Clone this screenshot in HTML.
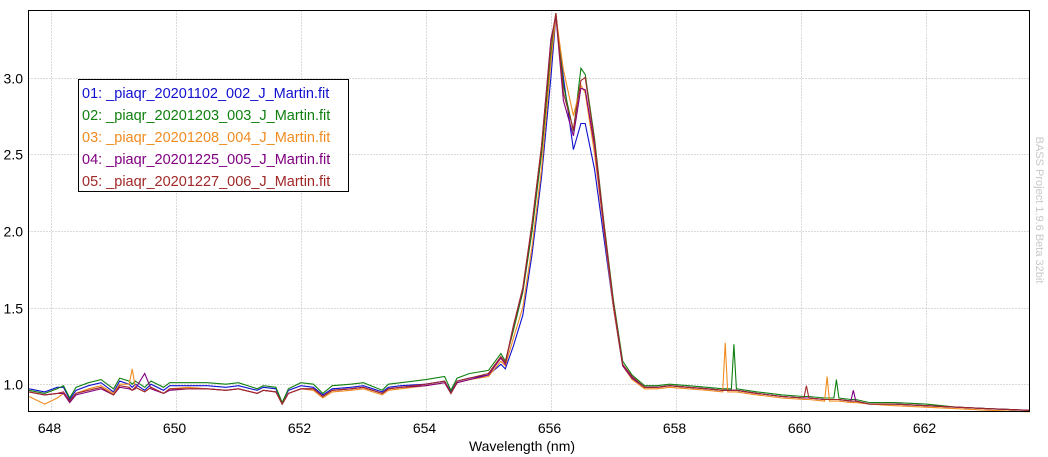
<!DOCTYPE html>
<html><head><meta charset="utf-8"><style>
html,body{margin:0;padding:0;background:#fff;width:1048px;height:457px;overflow:hidden;font-family:"Liberation Sans",sans-serif}
</style></head><body>
<svg id="chart" width="1048" height="457" xmlns="http://www.w3.org/2000/svg" font-family="Liberation Sans, sans-serif">
<g id="grid"></g>
<g id="series"></g>
<rect x="28.5" y="10.5" width="1001" height="401" fill="none" stroke="#000" stroke-width="1"/>
<g id="xticks"></g>
<g id="yticks"></g>
<text x="522" y="451" text-anchor="middle" font-size="14" fill="#000">Wavelength (nm)</text>
<text transform="translate(1036,210) rotate(90)" text-anchor="middle" font-size="11" fill="#c8c8c8">BASS Project 1.9.6 Beta 32bit</text>
<g>
<rect x="78.5" y="79.5" width="270" height="112" fill="#fff" stroke="#000"/>
<text x="82" y="98" font-size="14.5" fill="#1010d0">01: _piaqr_20201102_002_J_Martin.fit</text>
<text x="82" y="120" font-size="14.5" fill="#108010">02: _piaqr_20201203_003_J_Martin.fit</text>
<text x="82" y="142" font-size="14.5" fill="#f08c20">03: _piaqr_20201208_004_J_Martin.fit</text>
<text x="82" y="164" font-size="14.5" fill="#800080">04: _piaqr_20201225_005_J_Martin.fit</text>
<text x="82" y="186" font-size="14.5" fill="#a02828">05: _piaqr_20201227_006_J_Martin.fit</text>
</g>
</svg>
<script>
const wavelengths=[647.65,647.9,648.1,648.2,648.3,648.4,648.6,648.8,649.0,649.1,649.25,649.3,649.35,649.5,649.6,649.8,649.9,650.2,650.5,650.8,651.0,651.3,651.4,651.6,651.7,651.8,652.0,652.2,652.35,652.5,652.8,653.0,653.3,653.4,653.6,654.0,654.3,654.4,654.5,654.7,655.0,655.2,655.27,655.4,655.55,655.7,655.85,656.0,656.08,656.2,656.36,656.48,656.55,656.7,656.85,657.0,657.15,657.3,657.5,657.7,657.9,658.2,658.5,658.75,658.79,658.83,658.89,658.93,658.97,659.3,659.7,660.05,660.09,660.13,660.38,660.42,660.46,660.53,660.57,660.61,660.8,660.84,660.88,661.1,661.5,662.0,662.5,663.0,663.66];
const series01=[0.97,0.95,0.98,0.98,0.90,0.96,0.99,1.01,0.95,1.02,1.00,0.98,1.00,0.96,1.00,0.96,0.99,0.99,0.99,0.98,0.99,0.96,0.98,0.97,0.88,0.96,0.99,0.98,0.93,0.97,0.98,0.99,0.95,0.98,0.99,1.00,1.02,0.95,1.02,1.04,1.06,1.13,1.10,1.25,1.45,1.85,2.35,3.00,3.40,3.00,2.53,2.70,2.70,2.40,1.95,1.50,1.12,1.04,0.98,0.98,0.99,0.98,0.97,0.96,0.96,0.96,0.96,0.96,0.96,0.94,0.92,0.91,0.91,0.91,0.90,0.90,0.90,0.90,0.90,0.90,0.89,0.89,0.89,0.87,0.87,0.86,0.85,0.84,0.83];
const series02=[0.96,0.94,0.97,0.99,0.91,0.98,1.01,1.03,0.97,1.04,1.02,1.00,1.02,0.98,1.02,0.98,1.01,1.01,1.01,1.00,1.01,0.97,0.99,0.98,0.88,0.97,1.01,1.00,0.94,0.99,1.00,1.01,0.96,1.00,1.01,1.03,1.05,0.96,1.04,1.07,1.09,1.20,1.15,1.35,1.60,2.00,2.50,3.15,3.42,2.95,2.65,3.06,3.02,2.60,2.05,1.55,1.15,1.06,0.99,0.99,1.00,0.99,0.98,0.97,0.97,0.97,0.97,1.26,0.97,0.95,0.93,0.92,0.92,0.92,0.91,0.91,0.91,0.91,1.03,0.91,0.90,0.90,0.90,0.88,0.88,0.87,0.85,0.84,0.83];
const series03=[0.92,0.87,0.91,0.94,0.89,0.94,0.97,0.99,0.94,1.00,1.00,1.10,0.98,0.95,0.98,0.94,0.97,0.98,0.97,0.96,0.97,0.94,0.96,0.95,0.87,0.94,0.97,0.96,0.91,0.95,0.96,0.97,0.93,0.96,0.97,0.99,1.01,0.94,1.01,1.03,1.05,1.15,1.12,1.30,1.50,1.90,2.40,3.10,3.40,3.05,2.75,2.95,2.90,2.50,2.00,1.50,1.12,1.03,0.97,0.97,0.98,0.97,0.96,0.95,1.27,0.95,0.95,0.95,0.95,0.93,0.91,0.90,0.90,0.90,0.89,1.05,0.89,0.89,0.89,0.89,0.88,0.88,0.88,0.87,0.86,0.85,0.84,0.83,0.82];
const series04=[0.95,0.93,0.94,0.94,0.88,0.93,0.95,0.97,0.93,0.98,0.97,0.96,0.97,1.07,0.97,0.94,0.96,0.97,0.97,0.96,0.97,0.94,0.96,0.95,0.87,0.94,0.97,0.97,0.92,0.96,0.97,0.98,0.94,0.97,0.98,0.99,1.01,0.94,1.01,1.03,1.06,1.17,1.13,1.38,1.62,2.05,2.55,3.25,3.40,2.85,2.62,2.93,2.92,2.55,2.02,1.52,1.12,1.04,0.98,0.98,0.99,0.98,0.97,0.96,0.96,0.96,0.96,0.96,0.96,0.94,0.92,0.91,0.91,0.91,0.90,0.90,0.90,0.90,0.90,0.90,0.89,0.96,0.89,0.87,0.87,0.86,0.85,0.84,0.83];
const series05=[0.95,0.93,0.94,0.95,0.89,0.94,0.96,0.98,0.93,0.99,0.98,0.96,0.98,0.95,0.98,0.94,0.97,0.97,0.97,0.96,0.97,0.94,0.96,0.95,0.87,0.94,0.97,0.97,0.92,0.96,0.97,0.98,0.94,0.97,0.98,1.00,1.02,0.94,1.02,1.04,1.07,1.18,1.14,1.38,1.63,2.05,2.55,3.22,3.42,2.90,2.66,2.98,3.00,2.58,2.04,1.53,1.13,1.05,0.98,0.98,0.99,0.98,0.97,0.96,0.96,0.96,0.96,0.96,0.96,0.94,0.92,0.91,0.99,0.91,0.90,0.90,0.90,0.90,0.90,0.90,0.89,0.89,0.89,0.87,0.87,0.86,0.85,0.84,0.83];
const seriesNames=["series-01","series-02","series-03","series-04","series-05"];
const seriesColors=["#1010d0","#108010","#f08c20","#800080","#a02828"];
const xTicks=[648,650,652,654,656,658,660,662];
const yTicks=[1.0,1.5,2.0,2.5,3.0];
const allSeries=[series01,series02,series03,series04,series05];

const NS="http://www.w3.org/2000/svg";
const X0=28.5,X1=1029.5,Y0=10.5,Y1=411.5;
const xMin=647.64,xMax=663.66,yMin=0.822,yMax=3.437;
function xs(v){return X0+(v-xMin)/(xMax-xMin)*(X1-X0);}
function ys(v){return Y1-(v-yMin)/(yMax-yMin)*(Y1-Y0);}
const grid=document.getElementById('grid'),xt=document.getElementById('xticks'),yt=document.getElementById('yticks'),sg=document.getElementById('series');
xTicks.forEach(t=>{
  const x=Math.round(xs(t))+0.5;
  const l=document.createElementNS(NS,'line');
  
  
  l.setAttribute('x1',x);l.setAttribute('x2',x);l.setAttribute('y1',Y0);l.setAttribute('y2',Y1);
  l.setAttribute('stroke','#b4b4b4');l.setAttribute('stroke-dasharray','1,2');
  grid.appendChild(l);
  const tx=document.createElementNS(NS,'text');
  
  
  tx.setAttribute('x',x-2);tx.setAttribute('y',433);tx.setAttribute('text-anchor','middle');tx.setAttribute('font-size','14');
  tx.textContent=t;xt.appendChild(tx);
});
yTicks.forEach(t=>{
  const y=Math.round(ys(t))+0.5;
  const l=document.createElementNS(NS,'line');
  
  
  l.setAttribute('x1',X0);l.setAttribute('x2',X1);l.setAttribute('y1',y);l.setAttribute('y2',y);
  l.setAttribute('stroke','#b4b4b4');l.setAttribute('stroke-dasharray','1,2');
  grid.appendChild(l);
  const tx=document.createElementNS(NS,'text');
  
  
  tx.setAttribute('x',23);tx.setAttribute('y',y+5);tx.setAttribute('text-anchor','end');tx.setAttribute('font-size','14');
  tx.textContent=t.toFixed(1);yt.appendChild(tx);
});
allSeries.forEach((s,i)=>{
  const p=document.createElementNS(NS,'polyline');
  
  
  p.setAttribute('points',s.map((v,j)=>xs(wavelengths[j]).toFixed(1)+','+ys(v).toFixed(1)).join(' '));
  p.setAttribute('fill','none');p.setAttribute('stroke',seriesColors[i]);p.setAttribute('stroke-width','1.1');
  sg.appendChild(p);
});
</script>
</body></html>
